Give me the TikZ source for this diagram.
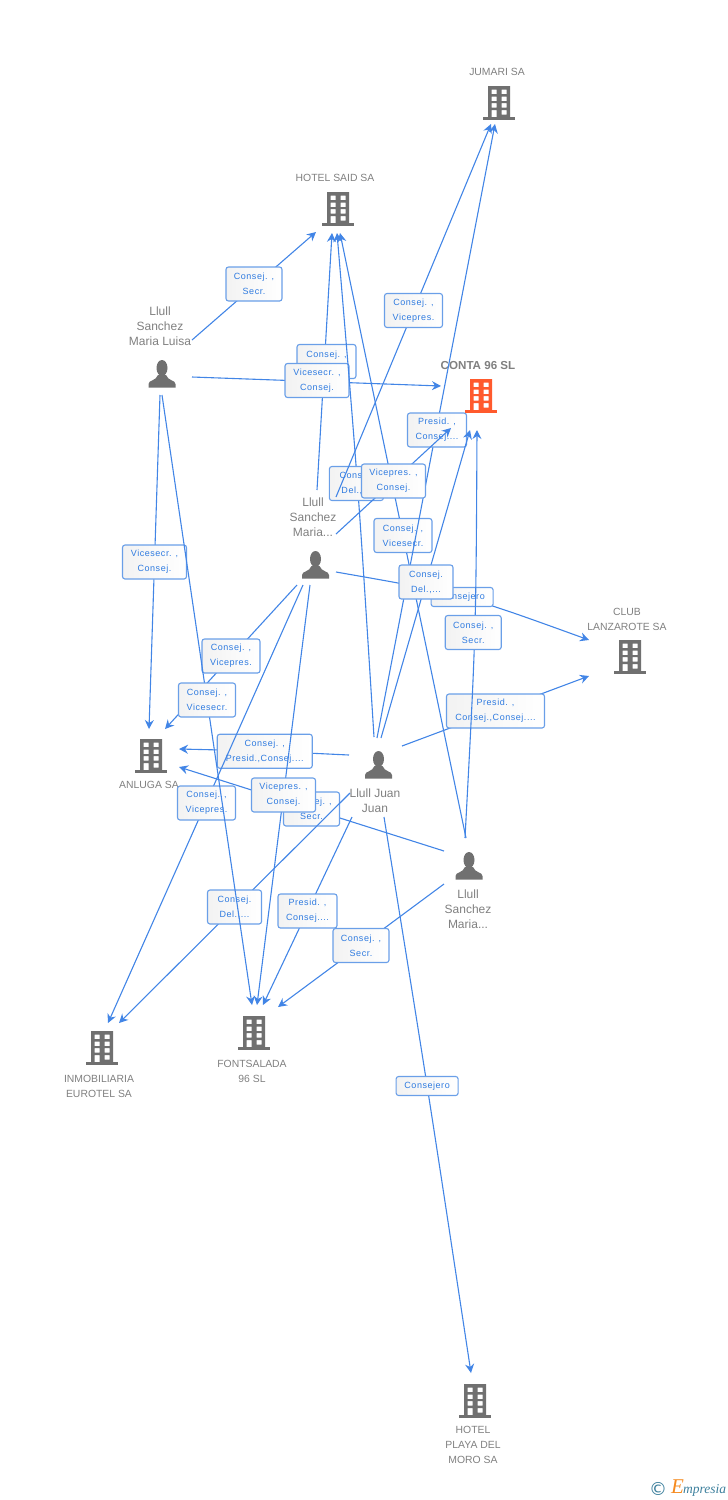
\documentclass[tikz,border=0pt]{standalone}
\usepackage{fontspec}
\setmainfont{Liberation Sans}
\newfontfamily\lblfont[LetterSpace=6]{Liberation Sans}
\newfontfamily\logofont{Liberation Serif}
\newfontfamily\symfont{DejaVu Sans}
\usetikzlibrary{arrows.meta}
\definecolor{linkblue}{HTML}{4285E6}
\definecolor{boxblue}{HTML}{6A9FE8}
\definecolor{textblue}{HTML}{2F7BE0}
\definecolor{icongrey}{HTML}{707070}
\definecolor{namegrey}{HTML}{808080}
\definecolor{iconred}{HTML}{FF5A2D}
\definecolor{logoteal}{HTML}{3C7F9C}
\definecolor{logoorange}{HTML}{F58A1F}

\tikzset{
	link/.style={draw=linkblue, line width=1.1pt, -{Stealth[length=9pt,width=9pt,inset=3pt]}},
	lbl/.style={draw=boxblue, line width=1.1pt, rounded corners=2.5pt, left color=black!5, right color=white,
		text=textblue, align=center, inner sep=0pt, minimum height=34pt, minimum width=#1,
		font=\lblfont\fontsize{9}{15}\selectfont},
	lbl/.default=56pt,
	entity/.style={text=namegrey, align=center, inner sep=0pt, font=\fontsize{10.4}{15}\selectfont},
	people/.style={entity, font=\fontsize{12}{15}\selectfont},
	building/.pic={
		\fill[even odd rule] (-11,-17) rectangle (11,14)
			(-7.5,-13.5) rectangle (-2.5,-9) (2.5,-13.5) rectangle (7.5,-9)
			(-7.5,-6.5) rectangle (-2.5,-2) (2.5,-6.5) rectangle (7.5,-2)
			(-7.5,0) rectangle (-2.5,4.5) (2.5,0) rectangle (7.5,4.5)
			(-7.5,7) rectangle (-2.5,14) (2.5,7) rectangle (7.5,11.5);
		\fill (-16,14) rectangle (16,17);
	},
	person/.pic={
		\fill (0,-6) ellipse (5.5 and 8);
		\fill (-13.5,13.5) -- (-13.5,10) .. controls (-13.5,6) and (-6,7) .. (-4,1) -- (4,1)
			.. controls (6,7) and (13.5,6) .. (13.5,10) -- (13.5,13.5) -- cycle;
	}
}

\begin{document}
\begin{tikzpicture}[x=1pt, y=-1pt]
\useasboundingbox (0,0) rectangle (728,1500);

% companies
\pic[icongrey] at (499,103) {building};
\pic[icongrey] at (338,209) {building};
\pic[iconred] at (481,396) {building};
\pic[icongrey] at (630,657) {building};
\pic[icongrey] at (151,756) {building};
\pic[icongrey] at (102,1048) {building};
\pic[icongrey] at (254,1033) {building};
\pic[icongrey] at (475,1401) {building};
\node[entity] (jumari) at (497,72) {JUMARI SA};
\node[entity] (said) at (335,178) {HOTEL SAID SA};
\node[entity, font=\bfseries\fontsize{11.6}{15}\selectfont] (conta) at (478,365) {CONTA 96 SL};
\node[entity] (club) at (627,619) {CLUB\\LANZAROTE SA};
\node[entity] (anluga) at (149,785) {ANLUGA SA};
\node[entity] (inmo) at (99,1086) {INMOBILIARIA\\EUROTEL SA};
\node[entity] (fontsalada) at (252,1071) {FONTSALADA\\96 SL};
\node[entity] (playa) at (473,1445) {HOTEL\\PLAYA DEL\\MORO SA};

% people
\pic[icongrey] at (162,374) {person};
\pic[icongrey] at (315.5,565) {person};
\pic[icongrey] at (378.5,765) {person};
\pic[icongrey] at (469,866) {person};
\node[people] (luisa) at (160,326) {Llull\\Sanchez\\Maria Luisa};
\node[people] (mariaa) at (313,517) {Llull\\Sanchez\\Maria...};
\node[people] (juan) at (375,801) {Llull Juan\\Juan};
\node[people] (mariab) at (468,909) {Llull\\Sanchez\\Maria...};

% connector ends
\coordinate (luisa-said) at (192,340);
\coordinate (said-luisa) at (316,232);
\coordinate (mariaa-said) at (317,490);
\coordinate (said-mariaa) at (332,233);
\coordinate (luisa-conta) at (192,377);
\coordinate (conta-luisa) at (441,386);
\coordinate (juan-said) at (374,737);
\coordinate (said-juan) at (337,233);
\coordinate (luisa-anluga) at (160,395);
\coordinate (anluga-luisa) at (149,729);
\coordinate (mariaa-anluga) at (297,585);
\coordinate (anluga-mariaa) at (165,729);
\coordinate (juan-anluga) at (349,755);
\coordinate (anluga-juan) at (179,749);
\coordinate (mariaa-club) at (336,572);
\coordinate (club-mariaa) at (589,640);
\coordinate (juan-club) at (402,746);
\coordinate (club-juan) at (589,676);
\coordinate (mariab-said) at (466,838);
\coordinate (said-mariab) at (340,233);
\coordinate (juan-jumari) at (377,738);
\coordinate (jumari-juan) at (495,124);
\coordinate (juan-conta) at (381,738);
\coordinate (conta-juan) at (470,430);
\coordinate (mariaa-conta) at (336,534);
\coordinate (conta-mariaa) at (451,428);
\coordinate (mariab-conta) at (465,838);
\coordinate (conta-mariab) at (477,430);
\coordinate (mariaa-jumari) at (336,497);
\coordinate (jumari-mariaa) at (491,124);
\coordinate (mariab-anluga) at (444,851);
\coordinate (anluga-mariab) at (179,767);
\coordinate (mariaa-font) at (310,585);
\coordinate (font-mariaa) at (257,1005);
\coordinate (juan-inmo) at (350,793);
\coordinate (inmo-juan) at (119,1023);
\coordinate (mariaa-inmo) at (303,585);
\coordinate (inmo-mariaa) at (108,1023);
\coordinate (luisa-font) at (162,395);
\coordinate (font-luisa) at (252,1005);
\coordinate (juan-font) at (352,817);
\coordinate (font-juan) at (263,1005);
\coordinate (mariab-font) at (444,884);
\coordinate (font-mariab) at (278,1007);
\coordinate (juan-playa) at (384,817);
\coordinate (playa-juan) at (471,1373);

% connectors with their labels, in stacking order
\draw[link] (luisa-said) -- node[lbl, yshift=2pt] (l1) {Consej. ,\\Secr.} (said-luisa);
\draw[link] (mariaa-said) -- node[lbl=59pt, xshift=2pt] (l2) {Consej. ,\\~} (said-mariaa);
\draw[link] (luisa-conta) -- node[lbl=64pt, xshift=0.5pt, yshift=1pt] (l3) {Vicesecr. ,\\Consej.} (conta-luisa);
\draw[link] (juan-said) .. controls (358,483) .. node[lbl=54pt, xshift=-1pt] (l4) {Consej.\\Del.,...} (said-juan);
\draw[link] (luisa-anluga) -- node[lbl=64pt] (l5) {Vicesecr. ,\\Consej.} (anluga-luisa);
\draw[link] (mariaa-anluga) -- node[lbl=58pt, yshift=1pt] (l6) {Consej. ,\\Vicepres.} (anluga-mariaa);
\draw[link] (juan-anluga) .. controls (265,751) .. node[lbl=95pt] (l7) {Consej. ,\\Presid.,Consej....} (anluga-juan);
\draw[link] (mariaa-club) .. controls (462,594) .. node[lbl=62pt, minimum height=19pt] (l8) {Consejero} (club-mariaa);
\draw[link] (juan-club) -- node[lbl=98pt] (l9) {Presid. ,\\Consej.,Consej....} (club-juan);
\draw[link] (mariab-said) -- node[lbl=58pt] (l10) {Consej. ,\\Vicesecr.} (said-mariab);
\draw[link] (juan-jumari) -- node[lbl=59pt, xshift=1pt, yshift=1pt] (l11) {Presid. ,\\Consej....} (jumari-juan);
\draw[link] (juan-conta) -- node[lbl=54pt, xshift=0.5pt, yshift=2pt] (l12) {Consej.\\Del.,...} (conta-juan);
\draw[link] (mariaa-conta) -- node[lbl=64pt] (l13) {Vicepres. ,\\Consej.} (conta-mariaa);
\draw[link] (mariab-conta) .. controls (476,632) .. node[lbl, xshift=-1.5pt] (l14) {Consej. ,\\Secr.} (conta-mariab);
\draw[link] (mariaa-jumari) -- node[lbl=58pt] (l15) {Consej. ,\\Vicepres.} (jumari-mariaa);
\draw[link] (mariab-anluga) -- node[lbl] (l16) {Consej. ,\\Secr.} (anluga-mariab);
\draw[link] (mariaa-font) -- node[lbl=64pt] (l17) {Vicepres. ,\\Consej.} (font-mariaa);
\draw[link] (juan-inmo) -- node[lbl=54pt, yshift=1pt] (l18) {Consej.\\Del.,...} (inmo-juan);
\draw[link] (mariaa-inmo) -- node[lbl=58pt, xshift=1pt, yshift=1pt] (l19) {Consej. ,\\Vicepres.} (inmo-mariaa);
\draw[link] (luisa-font) -- node[lbl=57pt] (l20) {Consej. ,\\Vicesecr.} (font-luisa);
\draw[link] (juan-font) -- node[lbl=59pt] (l21) {Presid. ,\\Consej....} (font-juan);
\draw[link] (mariab-font) -- node[lbl] (l22) {Consej. ,\\Secr.} (font-mariab);
\draw[link] (juan-playa) .. controls (427,1083) .. node[lbl=62pt, minimum height=19pt] (l23) {Consejero} (playa-juan);

% logo
\node[text=logoteal, inner sep=0pt, font=\symfont\fontsize{18}{18}\selectfont] (copyr) at (658,1489) {©};
\node[text=logoorange, inner sep=0pt, font=\logofont\itshape\fontsize{21}{21}\selectfont] (logoe) at (677.5,1487) {E};
\node[text=logoteal, inner sep=0pt, anchor=west, font=\logofont\itshape\fontsize{13.5}{14}\selectfont] (logotext) at (683,1490) {mpresia};
\end{tikzpicture}
\end{document}
